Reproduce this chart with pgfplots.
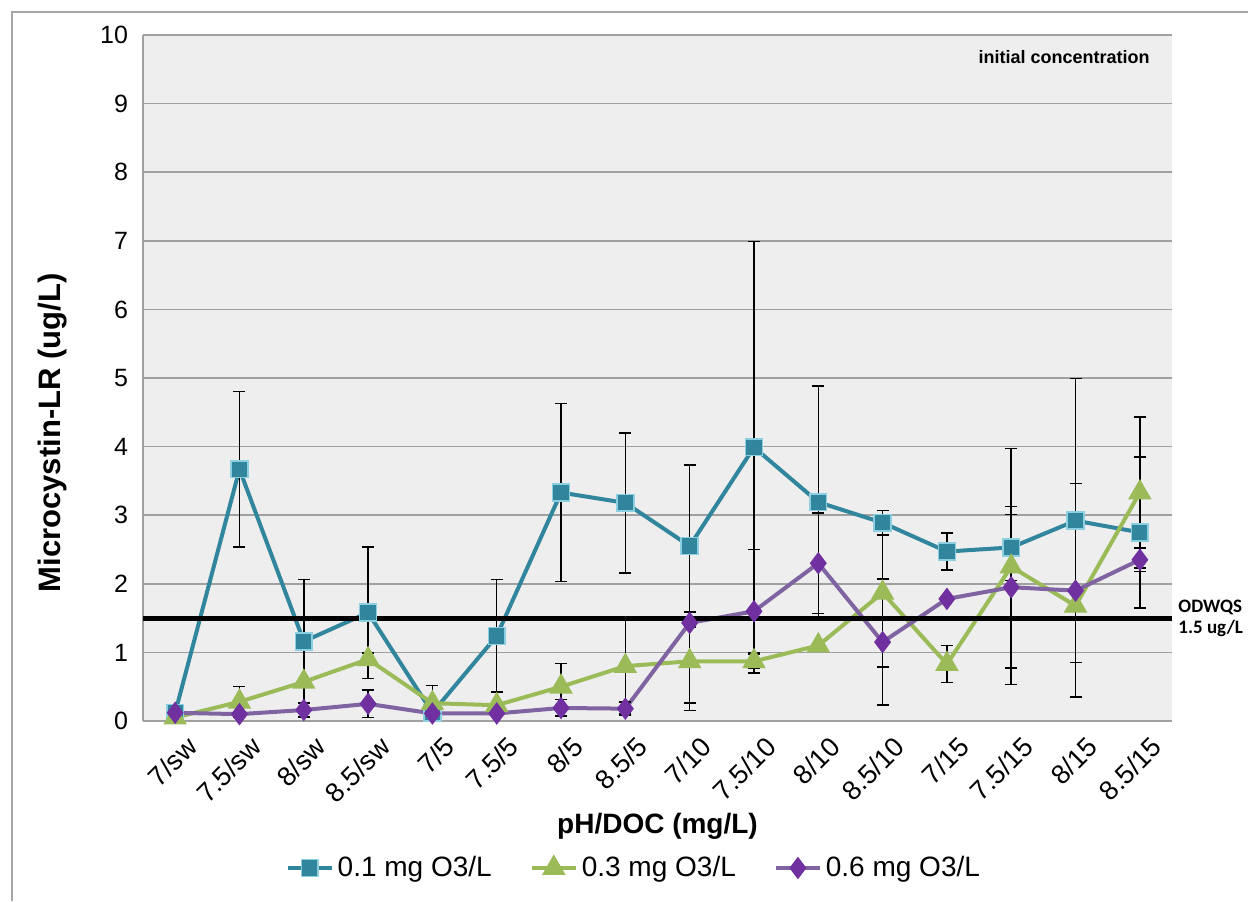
\documentclass[border=0pt]{standalone}
\usepackage{fontspec}
\setmainfont{Liberation Sans}
\newfontfamily\calib{Carlito}
\usepackage{pgfplots}
\usepackage{pgfplotstable}
\pgfplotsset{compat=1.18}
\definecolor{tealc}{HTML}{31859C}
\definecolor{tealedge}{HTML}{8CCFE0}
\definecolor{greenc}{HTML}{9BBB59}
\definecolor{purplec}{HTML}{7030A0}
\definecolor{purpleline}{HTML}{8064A2}
\definecolor{plotbg}{HTML}{EEEEEE}
\definecolor{gridc}{HTML}{A0A0A0}

\pgfplotstableread{
x s1 e1 s2 e2 s3 e3
0 0.12 0 0.05 0 0.12 0
1 3.67 1.13 0.28 0.22 0.10 0
2 1.16 0.90 0.57 0 0.16 0.10
3 1.58 0.96 0.90 0.09 0.25 0.20
4 0.12 0 0.26 0.26 0.11 0
5 1.24 0.82 0.23 0 0.11 0
6 3.33 1.30 0.50 0.34 0.19 0.12
7 3.18 1.02 0.80 0.70 0.18 0.10
8 2.55 1.18 0.87 0.72 1.43 1.17
9 3.99 3.00 0.87 0.10 1.60 0.90
10 3.19 1.69 1.10 0 2.30 0.73
11 2.89 0.18 1.87 1.08 1.15 0.92
12 2.47 0.27 0.83 0.27 1.78 0
13 2.53 0.48 2.25 1.72 1.95 1.18
14 2.92 2.07 1.68 1.32 1.90 1.56
15 2.75 1.10 3.33 1.10 2.35 0.17
}\datatable

\begin{document}
\begin{tikzpicture}
\useasboundingbox (-71.5pt,-90pt) rectangle (552.5pt,360.5pt);
\draw[gray!70, line width=0.8pt] (-65.5pt,-90pt) -- (-65.5pt,354.5pt) -- (552.5pt,354.5pt);
\begin{axis}[
  scale only axis,
  width=514.5pt, height=343pt,
  xmin=-0.5, xmax=15.5, ymin=0, ymax=10,
  ytick={0,1,...,10},
  xtick={0,1,...,15},
  xticklabels={7/sw,7.5/sw,8/sw,8.5/sw,7/5,7.5/5,8/5,8.5/5,7/10,7.5/10,8/10,8.5/10,7/15,7.5/15,8/15,8.5/15},
  axis background/.style={fill=plotbg},
  ymajorgrids, major grid style={gridc, line width=0.8pt},
  axis x line=bottom, axis y line=left,
  axis line style={gridc, line width=0.8pt, -},
  major tick length=0pt,
  /pgf/number format/assume math mode=true,
  yticklabel style={font=\fontsize{12.5}{14}\selectfont, xshift=-4pt},
  xticklabel style={font=\fontsize{13.5}{15}\selectfont, rotate=45, anchor=north east, xshift=2pt, yshift=-5pt},
  xlabel={\textbf{pH/DOC (mg/L)}},
  xlabel style={font=\fontsize{14}{16}\selectfont, at={(rel axis cs:0.5,0)}, anchor=center, yshift=-52.5pt},
  ylabel={\textbf{Microcystin-LR (ug/L)}},
  ylabel style={font=\fontsize{15.5}{17}\selectfont, at={([xshift=-45pt]rel axis cs:0,0.42)}, anchor=center},
  legend style={at={(rel axis cs:0.478,0)}, anchor=center, yshift=-73.5pt, draw=none, fill=none,
     font=\fontsize{14}{16}\selectfont, legend columns=3, /tikz/every even column/.append style={column sep=17pt}},
  legend image code/.code={
     \draw[#1, mark repeat=2, mark phase=2] plot coordinates {(0pt,0pt) (11pt,0pt) (22pt,0pt)};},
  clip=false,
]
\addplot[tealc, line width=2pt, mark=square*, mark size=4.2pt, mark options={fill=tealc, draw=tealedge, line width=0.8pt},
  error bars/.cd, y dir=both, y explicit, error bar style={black, line width=0.75pt}, error mark options={black, rotate=90, mark size=3pt, line width=0.75pt}]
  table[x=x, y=s1, y error=e1] {\datatable};
\addlegendentry{0.1 mg O3/L}
\addplot[greenc, line width=2pt, mark=triangle*, mark size=4.8pt, mark options={fill=greenc, draw=greenc},
  error bars/.cd, y dir=both, y explicit, error bar style={black, line width=0.75pt}, error mark options={black, rotate=90, mark size=3pt, line width=0.75pt}]
  table[x=x, y=s2, y error=e2] {\datatable};
\addlegendentry{0.3 mg O3/L}
\addplot[purpleline, line width=2pt, mark=diamond*, mark size=4pt, mark options={fill=purplec, draw=purplec},
  error bars/.cd, y dir=both, y explicit, error bar style={black, line width=0.75pt}, error mark options={black, rotate=90, mark size=3pt, line width=0.75pt}]
  table[x=x, y=s3, y error=e3] {\datatable};
\addlegendentry{0.6 mg O3/L}
\addplot[black, line width=2.5pt, forget plot] coordinates {(-0.5,1.5) (15.5,1.5)};
\node[anchor=west, align=left, font=\calib\bfseries\fontsize{9.5}{10.5}\selectfont, xshift=2pt, inner sep=1pt] at (axis cs:15.5,1.5) {ODWQS\\1.5 ug/L};
\node[anchor=east, font=\bfseries\fontsize{9}{11}\selectfont, inner sep=0pt] at ([xshift=-11pt, yshift=-11pt]rel axis cs:1,1) {initial concentration};
\end{axis}
\end{tikzpicture}
\end{document}
